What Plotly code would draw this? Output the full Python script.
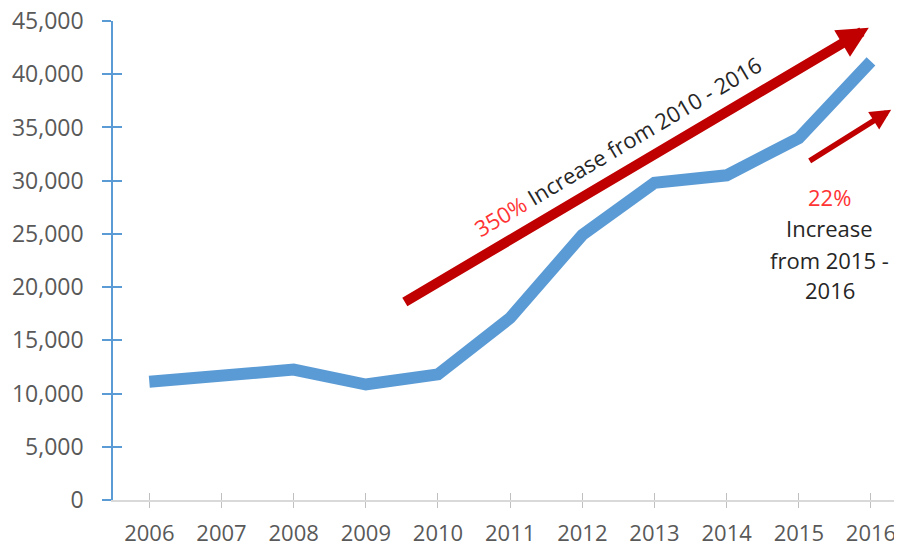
import plotly.graph_objects as go

years = [2006, 2007, 2008, 2009, 2010, 2011, 2012, 2013, 2014, 2015, 2016]
values = [11100, 11800, 12250, 10850, 11800, 17100, 24900, 29800, 30500, 34000, 41200]
y_ticks = [0, 5000, 10000, 15000, 20000, 25000, 30000, 35000, 40000, 45000]

big_label = "<span style='color:#FF3333'>350%</span> Increase from 2010 - 2016"
small_lines = ["<span style='color:#FF3333'>22%</span>", "Increase", "from 2015 -", "2016"]

FONT = "Open Sans"
LABEL_COLOR = "#595959"
BLUE = "#5B9BD5"
RED = "#C00000"

fig = go.Figure()
fig.add_trace(go.Scatter(x=years, y=values, mode="lines",
                         line=dict(color=BLUE, width=12), showlegend=False,
                         hoverinfo="skip"))
fig.add_trace(go.Scatter(x=[], y=[], xaxis="x2", yaxis="y2", showlegend=False))

xr = [2005.497, 2016.43]
yr = [0, 45000]

# page body has an 8px default margin, so the figure is sized to fill the rest
fig.update_layout(
    width=894, height=536,
    margin=dict(l=105, r=0, t=13, b=44, autoexpand=False),
    paper_bgcolor="white", plot_bgcolor="white",
    font=dict(family=FONT),
    xaxis=dict(range=xr, tickvals=years, ticktext=[str(y) for y in years],
               automargin=False, ticklabeloverflow="allow",
               showgrid=False, zeroline=False, showline=True,
               linecolor="#D9D9D9", linewidth=1.5,
               ticks="outside", ticklen=6, tickcolor="#BFBFBF", tickwidth=1,
               tickfont=dict(family=FONT, size=22, color=LABEL_COLOR),
               ticklabelstandoff=7),
    xaxis2=dict(range=xr, overlaying="x", tickvals=years, showticklabels=False,
                automargin=False,
                showgrid=False, zeroline=False, showline=False,
                ticks="inside", ticklen=7, tickcolor="#BFBFBF", tickwidth=1),
    yaxis=dict(range=yr, tickvals=y_ticks, tickformat=",",
               automargin=False, ticklabeloverflow="allow",
               showgrid=False, zeroline=False, showline=True,
               linecolor=BLUE, linewidth=1.5,
               ticks="outside", ticklen=9, tickcolor=BLUE, tickwidth=1.5,
               tickfont=dict(family=FONT, size=23, color=LABEL_COLOR),
               ticklabelstandoff=14),
    yaxis2=dict(range=yr, overlaying="y", tickvals=y_ticks, showticklabels=False,
                automargin=False,
                showgrid=False, zeroline=False, showline=False,
                ticks="inside", ticklen=9, tickcolor=BLUE, tickwidth=1.5),
)

fig.add_annotation(x=2015.97, y=44370, ax=2009.52, ay=18519,
                   xref="x", yref="y", axref="x", ayref="y",
                   text="", showarrow=True, arrowhead=2, arrowsize=0.62,
                   arrowwidth=10, arrowcolor=RED, standoff=0, startstandoff=0)
fig.add_annotation(x=2016.28, y=36662, ax=2015.13, ay=31773,
                   xref="x", yref="y", axref="x", ayref="y",
                   text="", showarrow=True, arrowhead=2, arrowsize=0.75,
                   arrowwidth=5.5, arrowcolor=RED, standoff=0, startstandoff=0)

fig.add_annotation(x=2012.49, y=33280, xref="x", yref="y", text=big_label,
                   showarrow=False, textangle=-30.7,
                   font=dict(family=FONT, size=22, color="#262626"))

small_y = [28484, 25570, 22562, 19741]
for line, yy in zip(small_lines, small_y):
    fig.add_annotation(x=2015.43, y=yy, xref="x", yref="y", text=line,
                       showarrow=False, xanchor="center", yanchor="middle",
                       font=dict(family=FONT, size=22, color="#262626"))

fig.write_html("out.html")
